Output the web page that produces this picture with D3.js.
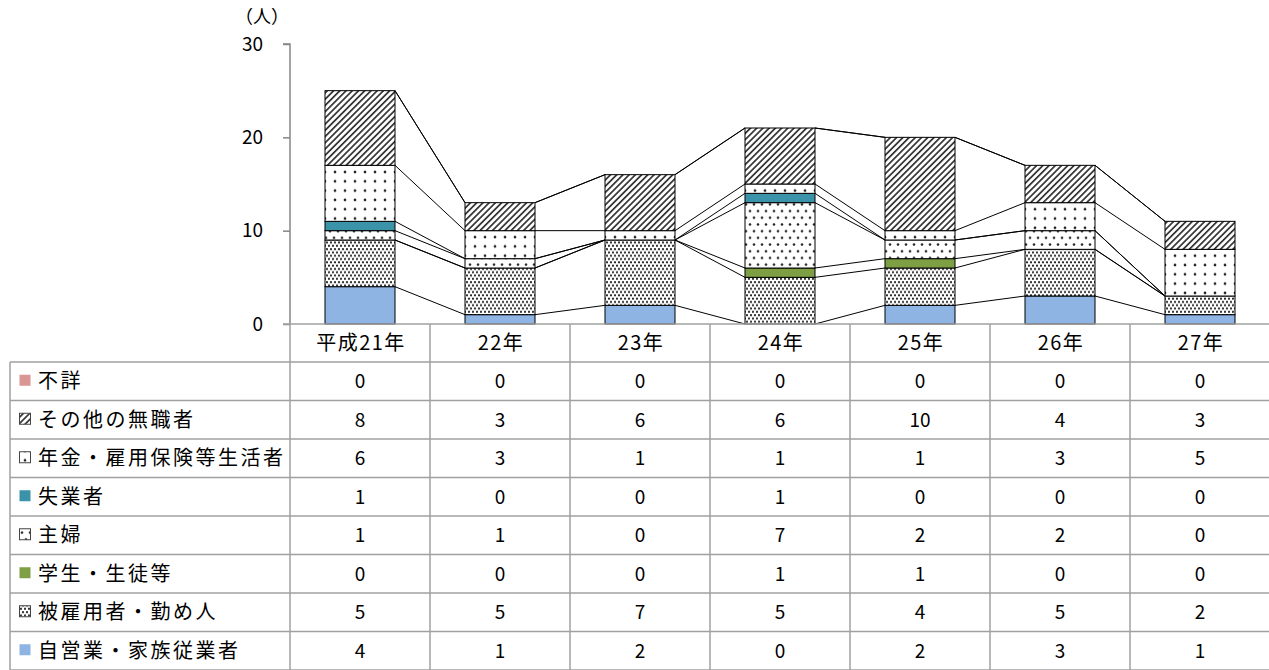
<!DOCTYPE html>
<html>
<head>
<meta charset="utf-8">
<script src="https://cdn.jsdelivr.net/npm/d3@7"></script>
<style>
  body { margin: 0; background: #fff; }
  text { font-family: "Noto Sans CJK JP", "Noto Sans", sans-serif; fill: #000; }
</style>
</head>
<body>
<div id="chart-area"></div>
<script>
/* Data */
const years = ["平成21年", "22年", "23年", "24年", "25年", "26年", "27年"];
const seriesNames = ["自営業・家族従業者", "被雇用者・勤め人", "学生・生徒等", "主婦", "失業者", "年金・雇用保険等生活者", "その他の無職者", "不詳"];
const jieigyo   = [4, 1, 2, 0, 2, 3, 1];
const hikoyou   = [5, 5, 7, 5, 4, 5, 2];
const gakusei   = [0, 0, 0, 1, 1, 0, 0];
const shufu     = [1, 1, 0, 7, 2, 2, 0];
const shitsugyo = [1, 0, 0, 1, 0, 0, 0];
const nenkin    = [6, 3, 1, 1, 1, 3, 5];
const sonota    = [8, 3, 6, 6, 10, 4, 3];
const fusho     = [0, 0, 0, 0, 0, 0, 0];
const yTicks = [0, 10, 20, 30];

const seriesValues = [jieigyo, hikoyou, gakusei, shufu, shitsugyo, nenkin, sonota, fusho];
const fills = ["#8EB4E3", "url(#p-dense)", "#7F9F45", "url(#p-mid)", "#3A93A8", "url(#p-sparse)", "url(#p-hatch)", "#D99694"];

const table = years.map((y, i) => {
    const row = { year: y };
    seriesNames.forEach((s, k) => row[s] = seriesValues[k][i]);
    return row;
});

/* SVG */
const W = 1269, H = 670;
const svg = d3.select("#chart-area").append("svg")
    .attr("width", W).attr("height", H);

// fill patterns
const defs = svg.append("defs");
function dotPattern(id, w, h, r, offset) {
    const p = defs.append("pattern").attr("id", id)
        .attr("patternUnits", "userSpaceOnUse")
        .attr("width", w).attr("height", h);
    p.append("rect").attr("width", w).attr("height", h).attr("fill", "#fff");
    if (offset) {
        p.append("circle").attr("cx", w / 4).attr("cy", h / 4).attr("r", r).attr("fill", "#222");
        p.append("circle").attr("cx", w * 3 / 4).attr("cy", h * 3 / 4).attr("r", r).attr("fill", "#222");
    } else {
        p.append("circle").attr("cx", w / 2).attr("cy", h / 2).attr("r", r).attr("fill", "#222");
    }
}
dotPattern("p-dense", 4, 6.6, 1.1, true);
dotPattern("p-mid", 8, 13.4, 1.3, true);
dotPattern("p-sparse", 10, 9.3, 1.35, false);
const hatch = defs.append("pattern").attr("id", "p-hatch")
    .attr("patternUnits", "userSpaceOnUse")
    .attr("width", 4.4).attr("height", 4.4)
    .attr("patternTransform", "rotate(45)");
hatch.append("rect").attr("width", 4.4).attr("height", 4.4).attr("fill", "#fff");
hatch.append("rect").attr("x", 0).attr("width", 1.7).attr("height", 4.4).attr("fill", "#333");

/* Scales */
const plotLeft = 290, plotRight = 1270, plotTop = 44, plotBottom = 324;
const x = d3.scaleBand().domain(years).range([plotLeft, plotRight]);
const y = d3.scaleLinear().domain([0, 30]).range([plotBottom, plotTop]);
const barW = x.bandwidth() * 0.5;
const barX = d => x(d) + x.bandwidth() * 0.25;

const stack = d3.stack().keys(seriesNames)(table);

/* Series lines */
const g = svg.append("g");
stack.forEach(layer => {
    for (let i = 0; i < years.length - 1; i++) {
        g.append("line")
            .attr("x1", barX(years[i]) + barW).attr("y1", y(layer[i][1]))
            .attr("x2", barX(years[i + 1])).attr("y2", y(layer[i + 1][1]))
            .attr("stroke", "#000").attr("stroke-width", 1);
    }
});

/* Bars */
stack.forEach((layer, k) => {
    g.append("g").selectAll("rect")
        .data(layer.filter(d => d[1] > d[0]))
        .join("rect")
        .attr("x", d => barX(d.data.year))
        .attr("y", d => y(d[1]))
        .attr("width", barW)
        .attr("height", d => y(d[0]) - y(d[1]))
        .attr("fill", fills[k])
        .attr("stroke", "#000").attr("stroke-width", 1);
});

/* Axis */
const yAxis = d3.axisLeft(y).tickValues(yTicks).tickSize(7).tickPadding(20);
const ax = svg.append("g").attr("transform", `translate(${plotLeft},0)`).call(yAxis);
ax.select(".domain").attr("stroke", "#868686").attr("stroke-width", 1.5).attr("d", `M-7,${plotTop}H0V${plotBottom}`);
ax.selectAll(".tick line").attr("stroke", "#868686").attr("stroke-width", 1.5);
ax.selectAll(".tick text").style("font-size", "19px").attr("fill", "#000");
svg.append("text").attr("x", 262).attr("y", 23).attr("text-anchor", "middle")
    .style("font-size", "18px").text("（人）");

/* Table */
const rowH = (670 - 362) / 8;
const tableLeft = 10, headTop = 324, bodyTop = 362;
const grid = svg.append("g").attr("stroke", "#a0a0a0").attr("stroke-width", 1.5).attr("fill", "none");
grid.append("line").attr("x1", plotLeft - 7).attr("x2", plotRight).attr("y1", headTop).attr("y2", headTop);
for (let r = 0; r <= 8; r++) {
    grid.append("line").attr("x1", tableLeft).attr("x2", plotRight)
        .attr("y1", bodyTop + r * rowH).attr("y2", bodyTop + r * rowH);
}
grid.append("line").attr("x1", tableLeft).attr("x2", tableLeft).attr("y1", bodyTop).attr("y2", H);
years.forEach(yr => {
    grid.append("line").attr("x1", x(yr)).attr("x2", x(yr)).attr("y1", headTop).attr("y2", H);
});

svg.append("g").selectAll("text").data(years).join("text")
    .attr("x", d => x(d) + x.bandwidth() / 2 + 1)
    .attr("y", headTop + (bodyTop - headTop) / 2)
    .attr("dy", "0.36em").attr("text-anchor", "middle")
    .style("font-size", "20px").style("letter-spacing", "1.5px").text(d => d);

const rowOrder = seriesNames.slice().reverse();
rowOrder.forEach((s, r) => {
    const k = seriesNames.indexOf(s);
    const cy = bodyTop + r * rowH + rowH / 2;
    svg.append("rect").attr("x", 19.5).attr("y", cy - 6.5).attr("width", 11).attr("height", 11)
        .attr("fill", fills[k]).attr("stroke", fills[k].startsWith("url") ? "#444" : "none");
    svg.append("text").attr("x", 38).attr("y", cy).attr("dy", "0.36em")
        .style("font-size", "20px").style("letter-spacing", "2.5px").text(s);
    svg.append("g").selectAll("text").data(table).join("text")
        .attr("x", d => x(d.year) + x.bandwidth() / 2)
        .attr("y", cy).attr("dy", "0.36em").attr("text-anchor", "middle")
        .style("font-size", "19px").text(d => d[s]);
});
</script>
</body>
</html>
